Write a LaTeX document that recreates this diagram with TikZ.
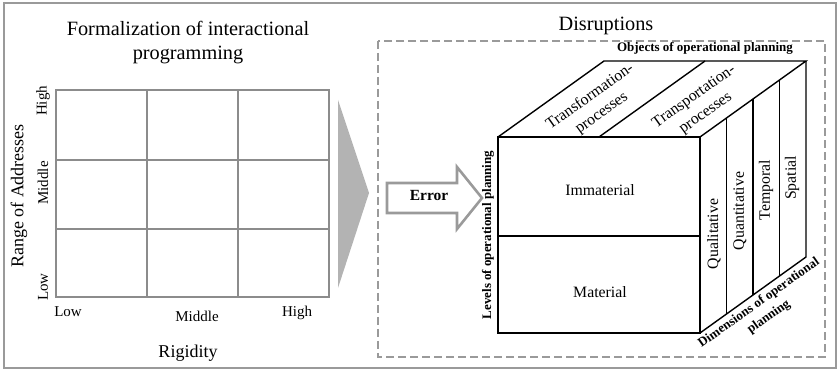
\documentclass[tikz,border=0pt]{standalone}
\usepackage{fontspec}
\setmainfont{Liberation Serif}
\usetikzlibrary{calc}
\definecolor{framegray}{HTML}{9A9A9A}
\definecolor{gridgray}{HTML}{8C8C8C}
\definecolor{wedgegray}{HTML}{B3B3B3}
\tikzset{
  titletxt/.style={inner sep=0pt, font=\fontsize{20.3}{24}\selectfont},
  axistxt/.style={inner sep=0pt, font=\fontsize{18}{22}\selectfont},
  ticktxt/.style={inner sep=0pt, font=\fontsize{15}{18}\selectfont},
  facetxt/.style={inner sep=0pt, align=center, font=\fontsize{15.8}{20}\selectfont},
  boldsmall/.style={inner sep=0pt, align=center, font=\fontsize{13}{17}\selectfont\bfseries},
  boldlabel/.style={inner sep=0pt, font=\fontsize{15.5}{18}\selectfont\bfseries},
  gridline/.style={draw=gridgray, line width=2.4pt},
  cubeline/.style={draw=black, line width=1.4pt},
}
\begin{document}
\begin{tikzpicture}[x=1pt, y=-1pt, line join=miter]
\useasboundingbox (0,0) rectangle (839,371);

% outer frame
\draw[framegray, line width=2pt] (4,3.5) rectangle (835.5,368);

% ---------- left part: 3x3 portfolio ----------
\node[titletxt, anchor=base] (title1) at (188,36) {Formalization of interactional};
\node[titletxt, anchor=base] (title2) at (188,60) {programming};

\draw[gridline] (56,90) rectangle (329,297);
\foreach \gx in {147,238} \draw[gridline] (\gx,90) -- (\gx,297);
\foreach \gy in {160,229} \draw[gridline] (56,\gy) -- (329,\gy);

\node[axistxt, rotate=90] (yaxis) at (19,196) {Range of Addresses};
\node[ticktxt, rotate=90] (yhigh) at (43,101) {High};
\node[ticktxt, rotate=90] (ymid) at (43,183) {Middle};
\node[ticktxt, rotate=90] (ylow) at (43,287) {Low};

\node[ticktxt, anchor=base] (xlow) at (68,317) {Low};
\node[ticktxt, anchor=base] (xmid) at (197,322) {Middle};
\node[ticktxt, anchor=base] (xhigh) at (297,317) {High};
\node[axistxt, anchor=base] (xaxis) at (188,358) {Rigidity};

% grey wedge pointing to the right part
\fill[wedgegray] (338,100) -- (369,193) -- (338,288) -- cycle;

% ---------- right part: disruption cube ----------
\node[titletxt, anchor=base] (disr) at (606,31) {Disruptions};
\draw[framegray, line width=2pt, dash pattern=on 8pt off 4pt] (378,41) rectangle (825,357);

% error arrow
\draw[framegray, line width=2.6pt, fill=white]
  (387,183) -- (457,183) -- (457,167) -- (482,198) -- (457,229) -- (457,213) -- (387,213) -- cycle;
\node[boldlabel] (err) at (429,196) {Error};

% cube corners
\coordinate (F1) at (498,137);
\coordinate (F2) at (700,137);
\coordinate (F3) at (700,333);
\coordinate (F4) at (498,333);
\coordinate (B1) at (604,61);
\coordinate (B2) at (806,61);
\coordinate (B3) at (806,257);

\draw[cubeline] (F1) rectangle (F3);
\draw[cubeline] (F1) -- (B1) -- (B2) -- (F2);
\draw[cubeline] (B2) -- (B3) -- (F3);
\draw[cubeline] (498,236) -- (700,236);
\draw[cubeline] ($(F1)!0.5!(F2)$) -- ($(B1)!0.5!(B2)$);
\foreach \f in {0.25,0.5,0.75}
  \draw[cubeline] ($(F2)!\f!(B2)$) -- ($(F3)!\f!(B3)$);

% cube labels
\node[boldsmall, anchor=base] (objects) at (705,52) {Objects of operational planning};
\node[facetxt, rotate=35.4] (transf) at (596,105) {Transformation-\\processes};
\node[facetxt, rotate=35.4] (transp) at (700,105) {Transportation-\\processes};

\node[facetxt] (immat) at (600,190) {Immaterial};
\node[facetxt] (mat) at (600,292) {Material};

\node[boldsmall, rotate=90] (levels) at (488,235) {Levels of operational planning};

\node[facetxt, rotate=90] (qual) at (714,234) {Qualitative};
\node[facetxt, rotate=90] (quant) at (740,211) {Quantitative};
\node[facetxt, rotate=90] (temp) at (766,190) {Temporal};
\node[facetxt, rotate=90] (spat) at (792,178) {Spatial};

\node[boldsmall, rotate=35.4] (dims) at (764,310) {Dimensions of operational\\planning};
\end{tikzpicture}
\end{document}
